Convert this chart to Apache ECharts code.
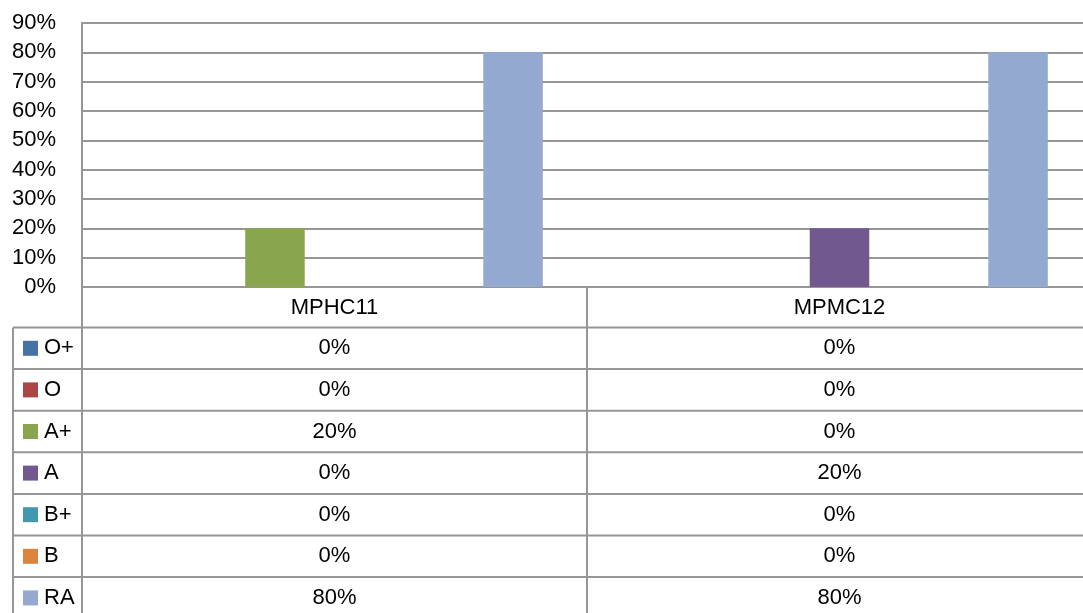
<!DOCTYPE html>
<html>
<head>
<meta charset="utf-8">
<script src="https://cdn.jsdelivr.net/npm/echarts@6/dist/echarts.min.js"></script>
<style>
  html, body { margin: 0; padding: 0; background: #fff; }
  #chart { width: 1083px; height: 613px; }
</style>
</head>
<body>
<div id="chart"></div>
<script>
// Categories and grade series (percent of students)
const categories = ['MPHC11', 'MPMC12'];
const seriesNames = ['O+', 'O', 'A+', 'A', 'B+', 'B', 'RA'];
const seriesColors = ['#4572A7', '#AA4643', '#89A54E', '#71588F', '#4198AF', '#DB843D', '#93A9CF'];
const oPlus = [0, 0];
const oGrade = [0, 0];
const aPlus = [20, 0];
const aGrade = [0, 20];
const bPlus = [0, 0];
const bGrade = [0, 0];
const raGrade = [80, 80];
const yTicks = { min: 0, max: 90, interval: 10 };

const seriesValues = [oPlus, oGrade, aPlus, aGrade, bPlus, bGrade, raGrade];

const FONT = 'Liberation Sans';
const FONT_SIZE = 22;
const LINE = '#969696';
// plot area runs slightly past the right edge of the canvas
const GRID = { left: 82, top: 23, width: 1010, height: 264, outerBoundsMode: 'none', containLabel: false };
// data table layout
const TABLE_LEFT = 13;
const TABLE_HEAD_BOTTOM = 327.5;
const ROW_H = 41.6;

const chart = echarts.init(document.getElementById('chart'), null, { renderer: 'canvas' });

chart.setOption({
  animation: false,
  backgroundColor: '#ffffff',
  grid: GRID,
  xAxis: {
    type: 'category',
    data: categories,
    boundaryGap: true,
    axisLine: { show: true, lineStyle: { color: LINE, width: 2 } },
    axisTick: { show: true, length: 340, lineStyle: { color: LINE, width: 2 } },
    axisLabel: { margin: 10, fontFamily: FONT, fontSize: FONT_SIZE, color: '#000' },
    splitLine: { show: false }
  },
  yAxis: {
    type: 'value',
    min: yTicks.min,
    max: yTicks.max,
    interval: yTicks.interval,
    axisLine: { show: true, lineStyle: { color: LINE, width: 2 } },
    axisTick: { show: false },
    axisLabel: { margin: 26, fontFamily: FONT, fontSize: FONT_SIZE, color: '#000', formatter: '{value}%' },
    splitLine: { show: true, lineStyle: { color: LINE, width: 2 } }
  },
  series: seriesNames.map((name, i) => ({
    name: name,
    type: 'bar',
    data: seriesValues[i],
    barGap: '0%',
    barCategoryGap: '17.5%',
    itemStyle: { color: seriesColors[i] }
  }))
});

// Data table under the plot, built from the same arrays
const graphics = [];
const right = GRID.left + GRID.width;
const bottom = 640;
const lineStyle = { stroke: LINE, lineWidth: 2 };

// horizontal rules
for (let r = 0; r <= seriesNames.length; r++) {
  const y = TABLE_HEAD_BOTTOM + r * ROW_H;
  graphics.push({ type: 'line', shape: { x1: TABLE_LEFT, y1: y, x2: right, y2: y }, style: lineStyle, silent: true });
}
// left border of legend column
graphics.push({ type: 'line', shape: { x1: TABLE_LEFT, y1: TABLE_HEAD_BOTTOM, x2: TABLE_LEFT, y2: bottom }, style: lineStyle, silent: true });

seriesNames.forEach((name, r) => {
  const cy = TABLE_HEAD_BOTTOM + (r + 0.5) * ROW_H;
  graphics.push({ type: 'rect', shape: { x: 23, y: cy - 7.5, width: 15, height: 15 }, style: { fill: seriesColors[r] }, silent: true });
  graphics.push({
    type: 'text', x: 44, y: cy,
    style: { text: name, fontFamily: FONT, fontSize: FONT_SIZE, fill: '#000', textAlign: 'left', textVerticalAlign: 'middle' },
    silent: true
  });
  categories.forEach((cat, c) => {
    const cx = chart.convertToPixel({ xAxisIndex: 0 }, cat);
    graphics.push({
      type: 'text', x: cx, y: cy,
      style: { text: seriesValues[r][c] + '%', fontFamily: FONT, fontSize: FONT_SIZE, fill: '#000', textAlign: 'center', textVerticalAlign: 'middle' },
      silent: true
    });
  });
});

chart.setOption({ graphic: graphics });
</script>
</body>
</html>
